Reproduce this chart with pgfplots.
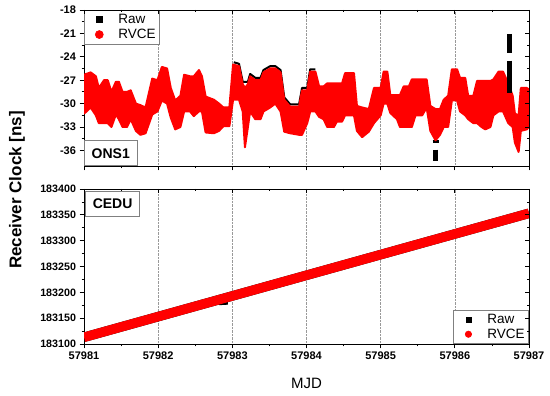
\documentclass[border=0pt]{standalone}
\usepackage{fontspec}
\setmainfont{Liberation Sans}
\usepackage{pgfplots}
\pgfplotsset{compat=1.18}

\pgfplotsset{
  base/.style={
    scale only axis, width=445pt,
    xmin=57981, xmax=57987,
    xtick={57981,57982,57983,57984,57985,57986,57987},
    minor x tick num=1,
    scaled x ticks=false, scaled y ticks=false,
    axis line style={-, line width=0.8pt},
    every tick/.style={black, line width=0.8pt},
    major tick length=4.5pt, minor tick length=2.5pt,
    /pgf/number format/assume math mode=true,
    /pgf/number format/1000 sep={},
    /pgf/number format/fixed,
    /pgf/number format/precision=0,
    ticklabel style={font=\fontsize{11}{13}\selectfont\bfseries},
  },
  mainax/.style={base, axis x line*=bottom, axis y line*=left, tick align=outside,
    xmajorgrids, grid style={densely dotted, gray!80, line width=0.6pt}},
  overax/.style={base, axis x line*=top, axis y line*=right, tick align=inside,
    xticklabels={}, yticklabels={}},
  topax/.style={at={(84pt,-10pt)}, anchor=north west, height=156pt,
    ymin=-38, ymax=-18, ytick={-36,-33,-30,-27,-24,-21,-18}, minor y tick num=1},
  botax/.style={at={(84pt,-189pt)}, anchor=north west, height=155pt,
    ymin=183100, ymax=183400, ytick={183100,183150,183200,183250,183300,183350,183400},
    minor y tick num=1},
  mylegend/.style={legend cell align=left,
    legend image code/.code={\path[draw=none, fill=none] (0pt,0pt) -- (28pt,0pt);
      \draw[##1, draw=none] plot[only marks] coordinates {(13pt,0pt)};},
    legend style={draw=gray, line width=0.6pt,
      font=\fontsize{13.5}{15}\selectfont, inner xsep=2pt, inner ysep=2pt,
      row sep=0pt,
      /tikz/every odd column/.append style={column sep=2pt}}},
}

\pgfplotstableread{
x y
57981.00 -26.3
57981.09 -26.0
57981.16 -26.5
57981.20 -28.0
57981.27 -27.0
57981.32 -27.0
57981.37 -28.5
57981.43 -27.2
57981.47 -27.2
57981.52 -28.5
57981.58 -28.5
57981.63 -28.3
57981.70 -30.0
57981.76 -30.2
57981.83 -30.5
57981.92 -26.8
57981.99 -27.0
57982.05 -25.3
57982.12 -25.5
57982.17 -28.0
57982.23 -29.6
57982.30 -29.0
57982.35 -26.3
57982.43 -26.5
57982.48 -26.5
57982.55 -25.7
57982.59 -26.5
57982.64 -29.1
57982.75 -29.5
57982.82 -30.0
57982.88 -30.5
57982.96 -30.5
57983.01 -25.0
57983.09 -25.2
57983.14 -27.5
57983.17 -28.0
57983.21 -27.5
57983.24 -26.5
57983.31 -27.0
57983.38 -27.0
57983.42 -26.0
57983.51 -25.5
57983.58 -25.5
57983.65 -26.0
57983.70 -29.5
57983.78 -30.4
57983.90 -30.4
57983.94 -28.3
57984.01 -28.3
57984.05 -25.9
57984.12 -25.9
57984.17 -27.8
57984.23 -27.8
57984.28 -27.4
57984.48 -27.4
57984.52 -26.1
57984.64 -26.1
57984.68 -30.3
57984.75 -30.5
57984.84 -30.7
57984.91 -28.0
57985.00 -28.0
57985.04 -25.9
57985.09 -25.9
57985.13 -28.9
57985.26 -28.9
57985.31 -27.8
57985.38 -27.8
57985.42 -26.9
57985.62 -26.9
57985.67 -30.3
57985.74 -30.7
57985.80 -30.7
57985.85 -29.5
57985.91 -29.0
57985.96 -25.6
57986.03 -25.6
57986.07 -26.7
57986.14 -26.7
57986.18 -29.0
57986.25 -29.0
57986.30 -27.1
57986.48 -27.1
57986.52 -26.9
57986.59 -25.9
57986.65 -25.9
57986.72 -27.4
57986.78 -29.0
57986.81 -31.3
57986.86 -31.5
57986.89 -28.0
57986.97 -28.0
57987.00 -28.2
57987.00 -33.0
57986.97 -33.3
57986.89 -33.5
57986.86 -36.2
57986.81 -35.0
57986.78 -33.0
57986.72 -32.5
57986.65 -31.0
57986.59 -31.0
57986.52 -31.5
57986.48 -33.0
57986.41 -33.3
57986.36 -33.0
57986.30 -32.5
57986.25 -32.5
57986.18 -32.0
57986.14 -31.5
57986.07 -31.0
57986.03 -29.6
57985.96 -29.6
57985.91 -33.0
57985.85 -33.0
57985.80 -34.0
57985.74 -34.7
57985.67 -33.5
57985.62 -30.5
57985.56 -31.5
57985.47 -31.5
57985.42 -33.0
57985.26 -33.0
57985.22 -32.0
57985.13 -31.2
57985.09 -30.0
57985.04 -30.0
57985.00 -31.5
57984.91 -32.5
57984.84 -33.6
57984.75 -34.3
57984.68 -33.5
57984.64 -31.5
57984.52 -31.5
57984.48 -32.3
57984.41 -32.3
57984.37 -33.0
57984.28 -33.0
57984.23 -32.0
57984.17 -31.7
57984.12 -31.0
57984.05 -31.0
57984.01 -32.5
57983.94 -34.0
57983.90 -34.0
57983.78 -33.8
57983.70 -33.6
57983.65 -31.0
57983.58 -30.0
57983.51 -30.5
57983.42 -31.0
57983.38 -32.0
57983.31 -32.0
57983.24 -31.0
57983.21 -33.0
57983.17 -35.6
57983.14 -31.0
57983.09 -29.5
57983.01 -29.5
57982.96 -32.9
57982.88 -32.9
57982.82 -33.5
57982.75 -33.8
57982.64 -33.7
57982.59 -31.0
57982.55 -31.0
57982.48 -31.6
57982.43 -31.0
57982.35 -31.0
57982.30 -33.0
57982.23 -33.3
57982.17 -31.8
57982.12 -30.0
57982.05 -29.6
57981.99 -31.0
57981.92 -31.4
57981.83 -33.8
57981.76 -34.0
57981.70 -33.5
57981.63 -32.0
57981.58 -33.0
57981.52 -33.0
57981.47 -32.0
57981.43 -31.4
57981.37 -33.0
57981.32 -32.5
57981.27 -32.5
57981.20 -32.5
57981.16 -31.5
57981.09 -30.5
57981.00 -31.3
}\onsrvce

\pgfplotstableread{
x y
57983.02 -24.7
57983.09 -24.9
57983.14 -27.2
57983.21 -27.2
57983.24 -26.2
57983.31 -26.7
57983.38 -26.7
57983.42 -25.7
57983.51 -25.2
57983.58 -25.2
57983.65 -25.7
57983.70 -29.2
57983.78 -30.1
57983.90 -30.1
57983.94 -28.0
57984.01 -28.0
57984.05 -25.6
57984.12 -25.6
}\onsraw

\begin{document}
\begin{tikzpicture}
\path[use as bounding box] (0,0) rectangle (550pt,-396pt);

% ---------- top panel: ONS1 ----------
\begin{axis}[mainax, topax, mylegend,
  xticklabels={},
  legend style={at={(0,1)}, anchor=north west},
]
\addlegendimage{mark=square*, mark size=3pt, black, mark options={fill=black}}
\addlegendentry{Raw}
\addlegendimage{mark=*, mark size=4pt, red, mark options={fill=red}}
\addlegendentry{RVCE}
\addplot[black, line width=2pt, line join=round, forget plot] table[x=x, y=y] {\onsraw};
\addplot[black, line width=3pt, forget plot] coordinates {(57985.70,-34.9) (57985.78,-34.9)};
\addplot[draw=red, fill=red, line width=2pt, line join=round, forget plot] table[x=x, y=y] {\onsrvce};
\addplot[black, line width=5.5pt, forget plot] coordinates {(57985.74,-35.9) (57985.74,-37.4)};
\addplot[black, line width=5.5pt, forget plot] coordinates {(57986.74,-21.07) (57986.74,-23.5)};
\addplot[black, line width=5.5pt, forget plot] coordinates {(57986.74,-24.5) (57986.74,-28.6)};
\node[draw=gray, line width=0.6pt, fill=white, anchor=south west, font=\fontsize{14}{16}\selectfont\bfseries,
  minimum width=53pt, minimum height=25pt, inner sep=0pt] at (rel axis cs:0,0) {ONS1};
\end{axis}
\begin{axis}[overax, topax]
\end{axis}

% ---------- bottom panel: CEDU ----------
\begin{axis}[mainax, botax, mylegend,
  yticklabel style={font=\fontsize{10.7}{13}\selectfont\bfseries},
  legend style={at={(1,0)}, anchor=south east},
]
\addlegendimage{mark=square*, mark size=2.5pt, black, mark options={fill=black}}
\addlegendentry{Raw}
\addlegendimage{mark=*, mark size=3.2pt, red, mark options={fill=red}}
\addlegendentry{RVCE}
\addplot[black, line width=9.5pt, forget plot] coordinates {(57981,183113) (57987,183353)};
\addplot[black, line width=4pt, forget plot] coordinates {(57982.82,183179) (57982.94,183180)};
\addplot[red, line width=9.5pt, forget plot] coordinates {(57981,183113) (57982,183153) (57983,183193) (57984,183233) (57985,183273) (57986,183313) (57987,183353)};
\node[draw=gray, line width=0.6pt, fill=white, anchor=north west, font=\fontsize{14}{16}\selectfont\bfseries,
  minimum width=54pt, minimum height=25pt, inner sep=0pt] at (rel axis cs:0.003,0.985) {CEDU};
\end{axis}
\begin{axis}[overax, botax]
\end{axis}

\node[rotate=90, font=\fontsize{17}{19}\selectfont\bfseries] at (17pt,-190pt) {Receiver Clock [ns]};
\node[font=\fontsize{15}{17}\selectfont] at (306.5pt,-383pt) {MJD};
\end{tikzpicture}
\end{document}
